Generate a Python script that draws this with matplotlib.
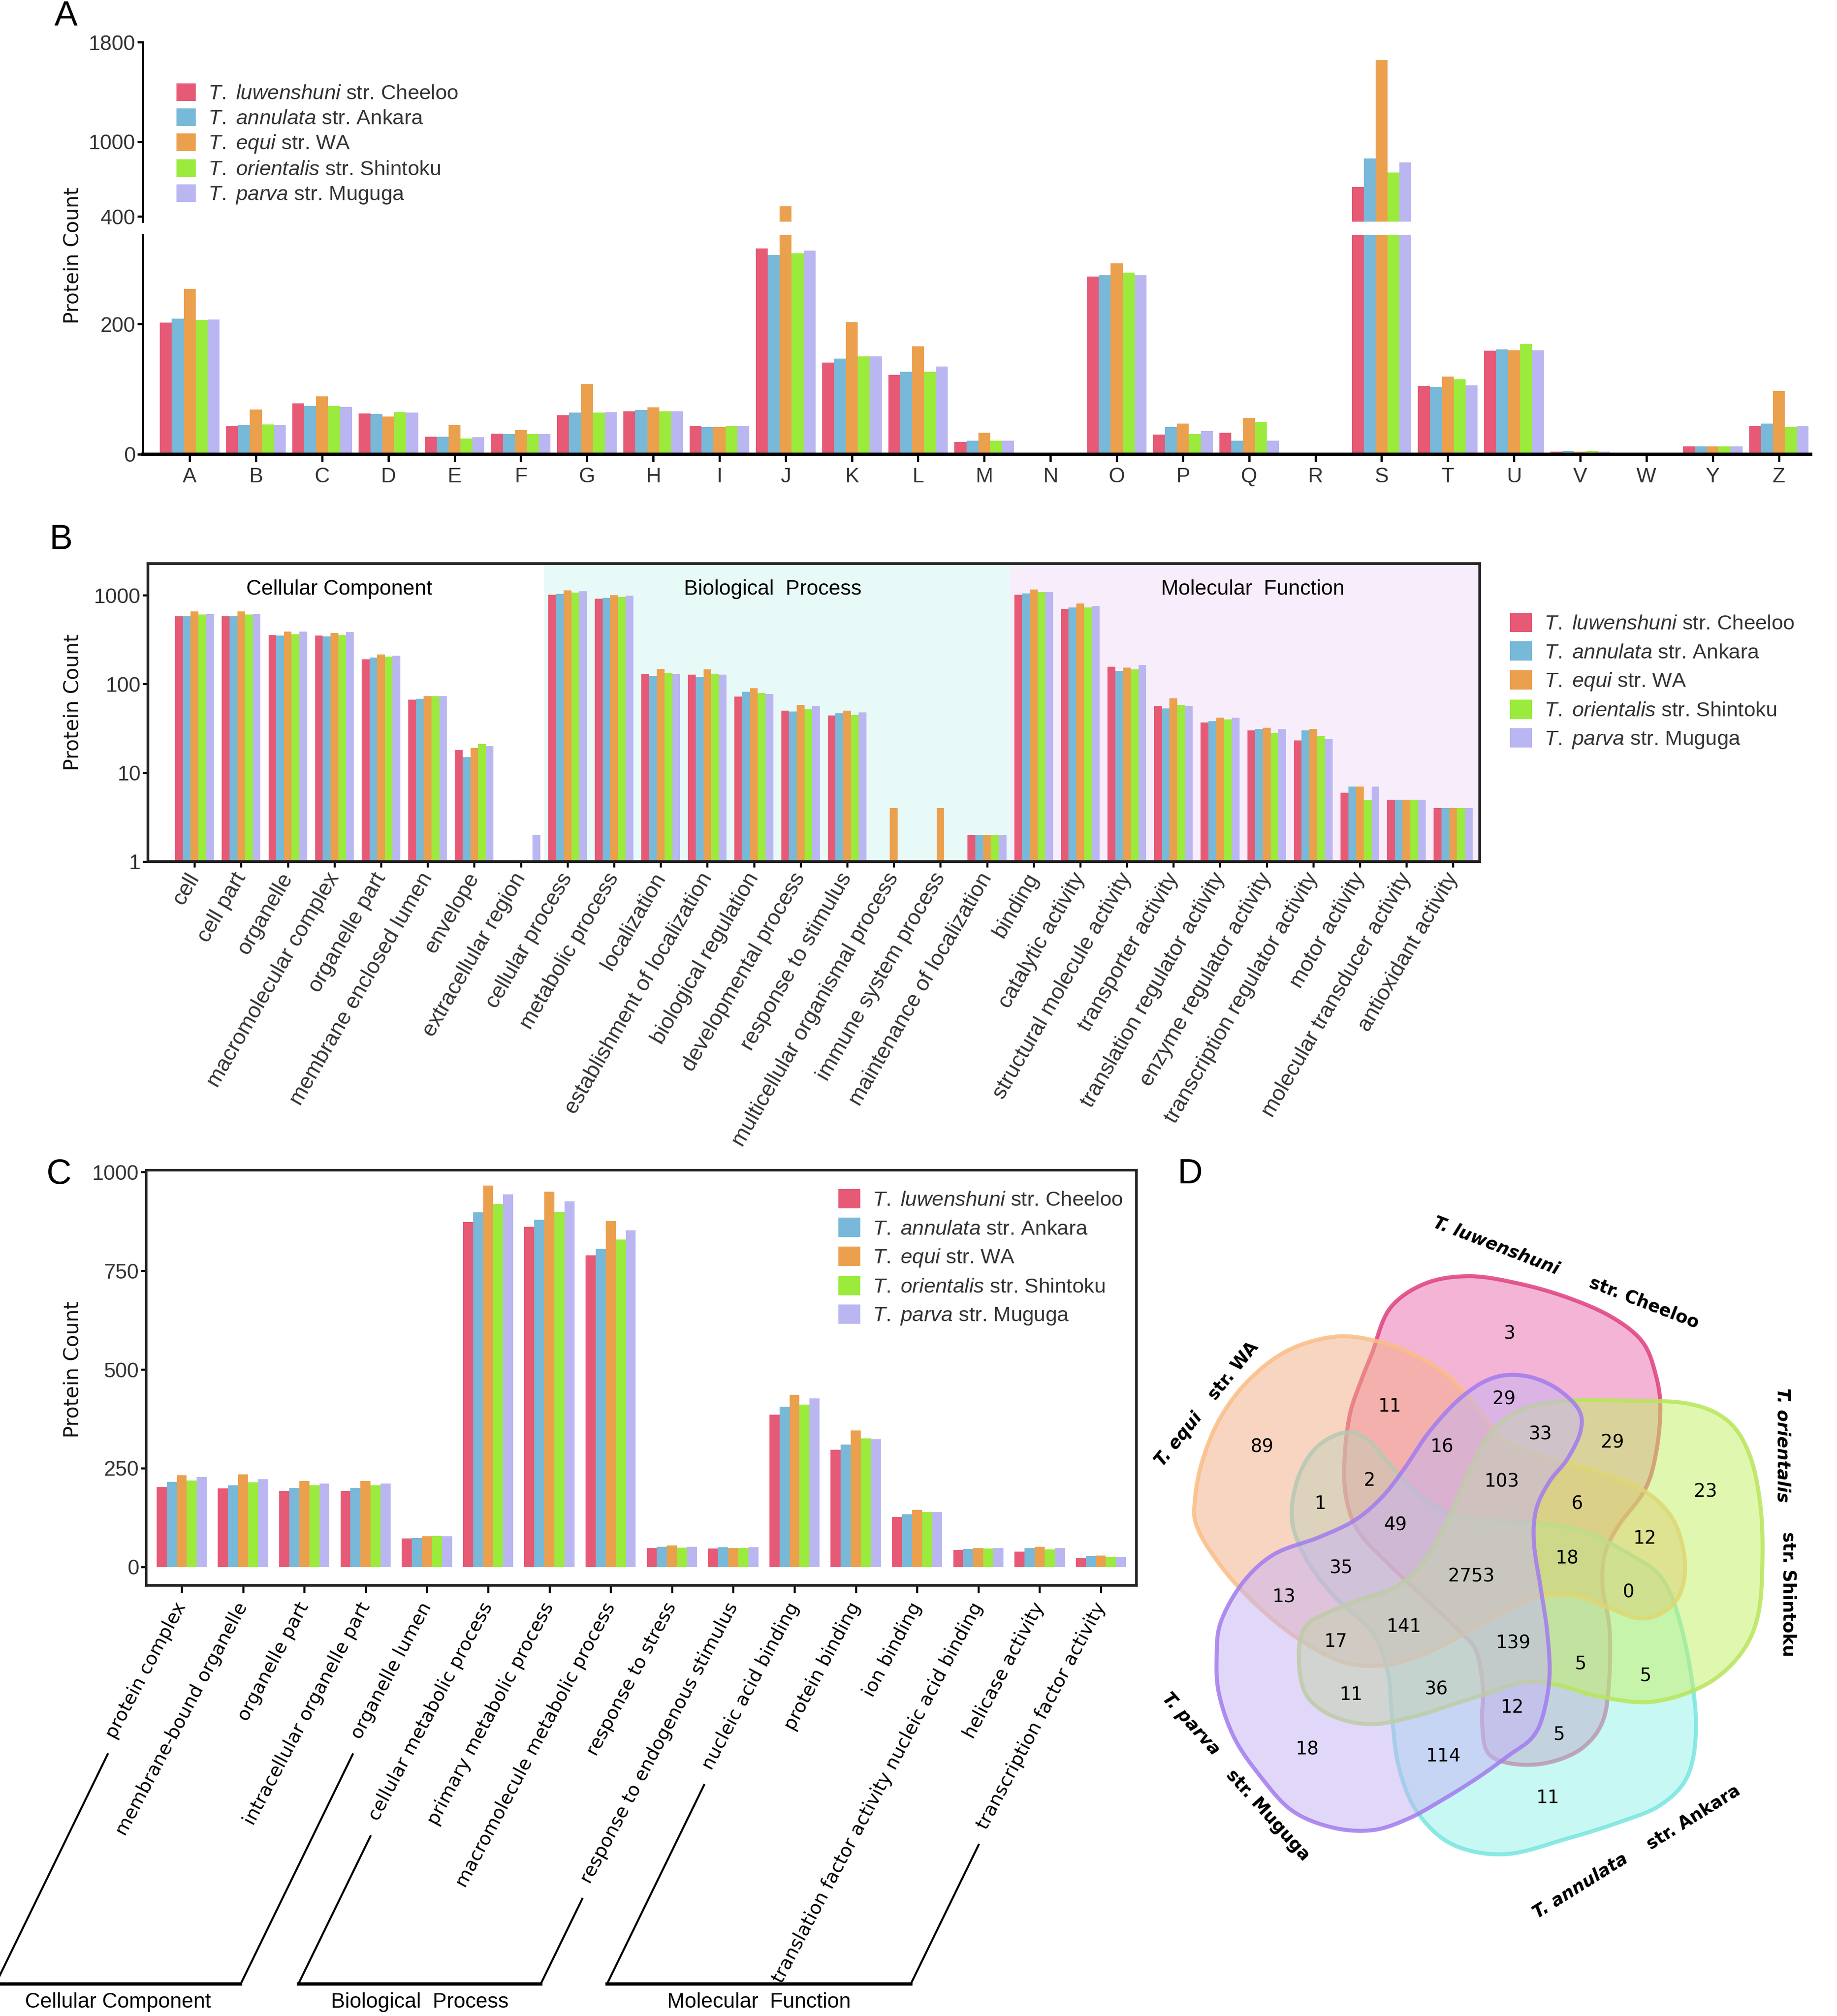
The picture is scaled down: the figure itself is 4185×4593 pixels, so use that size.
import numpy as np
import matplotlib.pyplot as plt
from matplotlib.patches import Patch, Polygon
from matplotlib.lines import Line2D

plt.rcParams['font.family'] = ['Liberation Sans', 'DejaVu Sans']
plt.rcParams['mathtext.fontset'] = 'custom'
plt.rcParams['mathtext.rm'] = 'Liberation Sans'
plt.rcParams['mathtext.it'] = 'Liberation Sans:italic'

# ---- data ----
species = ['T. luwenshuni', 'T. annulata', 'T. equi', 'T. orientalis', 'T. parva']
strains = ['str. Cheeloo', 'str. Ankara', 'str. WA', 'str. Shintoku', 'str. Muguga']
colors = ['#E65A76', '#78B8D8', '#EBA04E', '#9AEB3C', '#BAB6F1']

# A: COG functional categories
cog_cats = ['A', 'B', 'C', 'D', 'E', 'F', 'G', 'H', 'I', 'J', 'K', 'L', 'M',
            'N', 'O', 'P', 'Q', 'R', 'S', 'T', 'U', 'V', 'W', 'Y', 'Z']
cog_luw = [202, 44, 78, 63, 27, 32, 60, 66, 43, 316, 141, 122, 19, 0, 273, 30, 33, 0, 637, 105, 159, 4, 2, 12, 43]
cog_ann = [208, 45, 74, 62, 27, 31, 64, 68, 42, 306, 147, 127, 21, 0, 275, 42, 21, 0, 867, 103, 161, 5, 2, 12, 47]
cog_equ = [254, 69, 89, 58, 45, 37, 108, 72, 42, 481, 203, 166, 33, 0, 293, 47, 56, 0, 1654, 119, 160, 4, 2, 12, 97]
cog_ori = [206, 46, 74, 65, 24, 31, 64, 66, 43, 309, 150, 127, 21, 0, 279, 31, 49, 0, 753, 115, 169, 5, 2, 12, 42]
cog_par = [207, 45, 73, 64, 26, 31, 65, 66, 44, 313, 150, 135, 21, 0, 275, 36, 21, 0, 835, 106, 160, 4, 2, 12, 44]

# B: GO level-2 terms
go_groups = ['Cellular Component', 'Biological  Process', 'Molecular  Function']
go_terms = ['cell', 'cell part', 'organelle', 'macromolecular complex', 'organelle part',
            'membrane enclosed lumen', 'envelope', 'extracellular region',
            'cellular process', 'metabolic process', 'localization',
            'establishment of localization', 'biological regulation', 'developmental process',
            'response to stimulus', 'multicellular organismal process', 'immune system process',
            'maintenance of localization',
            'binding', 'catalytic activity', 'structural molecule activity', 'transporter activity',
            'translation regulator activity', 'enzyme regulator activity',
            'transcription regulator activity', 'motor activity', 'molecular transducer activity',
            'antioxidant activity']
go_sizes = [8, 10, 10]
go_luw = [579, 579, 356, 352, 189, 67, 18, 0, 1012, 918, 129, 128, 72, 50, 44, 0, 0, 2,
          1012, 704, 157, 57, 37, 30, 23, 6, 5, 4]
go_ann = [579, 582, 350, 344, 199, 68, 15, 0, 1037, 935, 123, 121, 82, 49, 47, 0, 0, 2,
          1050, 731, 139, 53, 38, 31, 30, 7, 5, 4]
go_equ = [659, 659, 391, 374, 215, 73, 19, 0, 1131, 1006, 148, 146, 90, 58, 50, 4, 4, 2,
          1166, 807, 153, 69, 42, 32, 31, 7, 5, 4]
go_ori = [608, 608, 363, 356, 203, 73, 21, 0, 1077, 958, 133, 130, 79, 52, 45, 0, 0, 2,
          1089, 731, 146, 58, 40, 28, 26, 5, 5, 4]
go_par = [615, 615, 391, 384, 208, 73, 20, 2, 1104, 993, 129, 127, 77, 56, 48, 0, 0, 2,
          1083, 749, 163, 57, 42, 31, 24, 7, 5, 4]

# C: GO level-3 terms
c_terms = ['protein complex', 'membrane-bound organelle', 'organelle part',
           'intracellular organelle part', 'organelle lumen', 'cellular metabolic process',
           'primary metabolic process', 'macromolecule metabolic process', 'response to stress',
           'response to endogenous stimulus', 'nucleic acid binding', 'protein binding',
           'ion binding', 'translation factor activity nucleic acid binding',
           'helicase activity', 'transcription factor activity']
c_groups = [(0, 4), (5, 9), (10, 15)]
c_luw = [202, 199, 192, 192, 72, 874, 862, 789, 47, 46, 386, 297, 127, 43, 39, 23]
c_ann = [216, 206, 200, 200, 73, 898, 879, 806, 51, 50, 406, 310, 133, 45, 47, 28]
c_equ = [232, 234, 218, 218, 78, 966, 951, 876, 54, 48, 436, 345, 144, 47, 51, 29]
c_ori = [219, 214, 206, 206, 79, 919, 899, 829, 49, 48, 411, 326, 139, 46, 44, 25]
c_par = [228, 222, 211, 211, 78, 944, 926, 853, 51, 50, 427, 323, 139, 47, 47, 25]

# D: shared orthologous clusters (Venn region counts)
venn_counts = [3, 11, 29, 89, 16, 33, 29, 103, 2, 1, 6, 23, 12, 49, 18, 35, 2753,
               0, 13, 141, 17, 139, 5, 5, 11, 36, 12, 5, 18, 114, 11]

# ---- layout helpers (figure pixels, origin top-left) ----
W, H, DPI = 4185, 4593, 300
fig = plt.figure(figsize=(W / DPI, H / DPI), dpi=DPI)
dark = '#333333'


def box(x0, y0, x1, y1):
    return [x0 / W, 1 - y1 / H, (x1 - x0) / W, (y1 - y0) / H]


def legend_labels():
    return [r'$\it{' + sp.replace(' ', r'\ ') + '}$ ' + st for sp, st in zip(species, strains)]


def add_legend(ax, x0, y0, size_px, step_px):
    fs = 11.4
    fs_px = fs / 72 * DPI
    hpt = size_px / DPI * 72
    handles = [Patch(facecolor=c, edgecolor='none') for c in colors]
    leg = ax.legend(handles, legend_labels(), loc='upper left',
                    bbox_to_anchor=(x0 / W, 1 - y0 / H), bbox_transform=fig.transFigure,
                    frameon=False, fontsize=fs, handlelength=hpt / fs, handleheight=hpt / fs,
                    handletextpad=0.6, borderpad=0, borderaxespad=0,
                    labelspacing=(step_px - 47) / fs_px)
    for t in leg.get_texts():
        t.set_color(dark)
    return leg


def panel_label(s, x, y):
    fig.text(x / W, 1 - y / H, s, fontsize=19, ha='center', va='center')


def ylabel(y):
    fig.text(166 / W, 1 - y / H, 'Protein Count', rotation=90, family='DejaVu Sans',
             fontsize=11, ha='center', va='center', color='#111111')


# ---- A: broken-axis bar chart ----
axA_lo = fig.add_axes(box(325, 535, 4125, 1035))
axA_hi = fig.add_axes(box(325, 96, 4125, 505))
xa = np.arange(len(cog_cats))
bw = 0.18
for ax in (axA_lo, axA_hi):
    for i, (vals, c) in enumerate(zip([cog_luw, cog_ann, cog_equ, cog_ori, cog_par], colors)):
        ax.bar(xa + (i - 2) * bw, vals, bw, color=c, linewidth=0)
    ax.set_xlim(-0.71, 24.48)
    for s in ('top', 'right'):
        ax.spines[s].set_visible(False)
    ax.spines['left'].set_linewidth(1.2)
    ax.tick_params(axis='y', labelsize=11.5, labelcolor=dark, length=3, width=1.2, pad=1)
axA_lo.set_ylim(0, 337)
axA_lo.set_yticks([0, 200])
axA_lo.spines['bottom'].set_linewidth(1.8)
axA_lo.set_xticks(xa)
axA_lo.set_xticklabels(cog_cats)
axA_lo.tick_params(axis='x', labelsize=11.5, labelcolor=dark, length=4, width=1.2, pad=3)
axA_hi.set_ylim(358, 1800)
axA_hi.set_yticks([400, 1000, 1800])
axA_hi.spines['bottom'].set_visible(False)
axA_hi.set_xticks([])
add_legend(axA_hi, 402, 190, 44, 57.5)
panel_label('A', 150, 38)
ylabel(582)

# ---- B: GO level-2, log scale ----
axB = fig.add_axes(box(337, 1284, 3371, 1963))
xb = np.arange(len(go_terms))
bw = 0.166
for i, (vals, c) in enumerate(zip([go_luw, go_ann, go_equ, go_ori, go_par], colors)):
    v = np.array(vals, float)
    axB.bar(xb + (i - 2) * bw, np.where(v > 0, v - 1, 0), bw, bottom=1, color=c, linewidth=0)
axB.set_yscale('log')
axB.set_ylim(1, 2270)
axB.set_xlim(-1, 27.57)
edges = np.cumsum(go_sizes) - 0.5
axB.axvspan(edges[0], edges[1], color='#E8FAF8', zorder=0, lw=0)
axB.axvspan(edges[1], 27.57, color='#F8EDFB', zorder=0, lw=0)
for g, xc in zip(go_groups, [3.1, 12.4, 22.7]):
    axB.text(xc, 1173, g, ha='center', va='center', fontsize=11.5)
axB.set_yticks([1, 10, 100, 1000])
axB.set_yticklabels(['1', '10', '100', '1000'])
axB.minorticks_off()
axB.set_xticks(xb)
axB.set_xticklabels(go_terms, rotation=60, ha='right', va='center', rotation_mode='anchor')
axB.tick_params(axis='x', labelsize=12, labelcolor=dark, length=3, width=1.1, pad=4)
axB.tick_params(axis='y', labelsize=11.5, labelcolor=dark, length=3, width=1.1, pad=1)
for s in axB.spines.values():
    s.set_linewidth(1.5)
    s.set_color('#222222')
add_legend(axB, 3440, 1396, 50, 64)
panel_label('B', 139, 1231)
ylabel(1600)

# ---- C: GO level-3 ----
axC = fig.add_axes(box(333, 2666, 2589, 3612))
xc_ = np.arange(len(c_terms))
bw = 0.164
for i, (vals, c) in enumerate(zip([c_luw, c_ann, c_equ, c_ori, c_par], colors)):
    axC.bar(xc_ + (i - 2) * bw, vals, bw, color=c, linewidth=0)
axC.set_ylim(-47, 1005)
axC.set_xlim(-0.58, 15.58)
axC.set_yticks([0, 250, 500, 750, 1000])
axC.set_xticks(xc_)
axC.set_xticklabels(c_terms, rotation=62, ha='right', va='center', rotation_mode='anchor',
                    family='DejaVu Sans')
axC.tick_params(axis='x', labelsize=10.2, length=4, width=1.1, pad=6)
axC.tick_params(axis='y', labelsize=11.5, labelcolor=dark, length=3, width=1.1, pad=1)
for s in axC.spines.values():
    s.set_linewidth(1.4)
    s.set_color('#222222')
add_legend(axC, 1910, 2709, 50, 64)
panel_label('C', 135, 2676)
ylabel(3120)

# group brackets under the C tick labels
fig.canvas.draw()
rend = fig.canvas.get_renderer()
labs = axC.get_xticklabels()
y_bot = 73
slope = np.tan(np.radians(64))
for (i0, i1), name in zip(c_groups, go_groups):
    xs = []
    for i in (i0, i1):
        bb = labs[i].get_window_extent(rend)
        xt, yt = bb.x0 + 12, bb.y0 - 28
        xb_ = xt - (yt - y_bot) / slope
        fig.add_artist(Line2D([xt / W, xb_ / W], [yt / H, y_bot / H], color='black', lw=1.1))
        xs.append(xb_)
    fig.add_artist(Line2D([xs[0] / W, xs[1] / W], [y_bot / H, y_bot / H], color='black', lw=1.8))
    fig.text((xs[0] + xs[1]) / 2 / W, 32 / H, name, ha='center', va='center', fontsize=11.5)

# ---- D: five-set Venn ----
axD = fig.add_axes(box(2600, 2600, 4185, 4593))
axD.set_xlim(0, 1568)
axD.set_ylim(1568, 0)
axD.axis('off')


def smooth_closed(pts, n=16):
    p = np.asarray(pts, float)
    k = len(p)
    t = np.linspace(0, 1, n, endpoint=False)[:, None]
    out = []
    for i in range(k):
        p0, p1, p2, p3 = p[i - 1], p[i], p[(i + 1) % k], p[(i + 2) % k]
        out.append(0.5 * (2 * p1 + (-p0 + p2) * t + (2 * p0 - 5 * p1 + 4 * p2 - p3) * t ** 2
                          + (-p0 + 3 * p1 - 3 * p2 + p3) * t ** 3))
    return np.vstack(out)


shape_luw = [(520, 380), (560, 300), (640, 255), (740, 242), (850, 255), (960, 280), (1060, 315),
             (1130, 360), (1160, 420), (1170, 480), (1160, 560), (1135, 625), (1075, 690),
             (1045, 740), (1040, 800), (1055, 870), (1055, 960), (1040, 1040), (990, 1090),
             (910, 1115), (830, 1115), (780, 1095), (768, 1040), (770, 980), (755, 915),
             (720, 880), (640, 820), (560, 760), (490, 700), (462, 640), (458, 570), (470, 490),
             (495, 430)]
shape_ann = [(340, 650), (360, 590), (400, 545), (460, 522), (510, 535), (560, 580), (620, 630),
             (700, 670), (800, 680), (900, 685), (1000, 700), (1100, 740), (1170, 780),
             (1210, 850), (1240, 960), (1250, 1060), (1230, 1140), (1170, 1190), (1080, 1220),
             (960, 1250), (820, 1278), (700, 1260), (620, 1200), (580, 1120), (565, 1030),
             (555, 950), (520, 880), (440, 820), (380, 760), (345, 700)]
shape_equ = [(120, 650), (135, 580), (175, 500), (240, 430), (330, 375), (440, 350), (540, 360),
             (620, 385), (690, 420), (750, 470), (800, 520), (840, 545), (930, 570), (1040, 595),
             (1140, 630), (1200, 680), (1225, 750), (1215, 810), (1175, 845), (1120, 855),
             (1050, 835), (980, 815), (910, 815), (850, 830), (780, 860), (700, 895), (620, 925),
             (540, 940), (460, 935), (380, 905), (300, 860), (220, 800), (160, 740), (125, 690)]
shape_ori = [(355, 920), (370, 870), (420, 845), (500, 820), (570, 800), (630, 760), (690, 680),
             (740, 590), (790, 520), (860, 480), (960, 465), (1080, 465), (1230, 470),
             (1320, 500), (1370, 560), (1395, 650), (1400, 750), (1390, 850), (1350, 920),
             (1270, 975), (1150, 1005), (1030, 995), (940, 975), (860, 970), (780, 990),
             (700, 1010), (620, 1030), (520, 1045), (430, 1030), (370, 990)]
shape_par = [(170, 920), (180, 860), (230, 790), (300, 740), (400, 710), (480, 680), (540, 640),
             (590, 590), (650, 520), (720, 460), (790, 425), (860, 420), (930, 440), (985, 480),
             (990, 520), (960, 570), (920, 610), (890, 660), (885, 720), (900, 800), (915, 880),
             (920, 960), (905, 1030), (880, 1070), (830, 1100), (760, 1140), (680, 1180),
             (600, 1215), (520, 1235), (430, 1230), (340, 1200), (270, 1140), (210, 1070),
             (175, 990)]
venn_fill = ['#E96AAD', '#93F3E9', '#F3AD85', '#C3F163', '#C5B3F5']
venn_edge = ['#E0407E', '#78E6E0', '#FBBE85', '#B8E65A', '#A27CEE']
for pts, fc, ec in zip([shape_luw, shape_ann, shape_equ, shape_ori, shape_par], venn_fill, venn_edge):
    xy = smooth_closed(pts)
    axD.add_patch(Polygon(xy, closed=True, facecolor=fc, alpha=0.5, edgecolor='none'))
    axD.add_patch(Polygon(xy, closed=True, facecolor='none', edgecolor=ec, alpha=0.85, lw=2.2))

venn_xy = [(830, 345), (560, 475), (818, 462), (272, 548), (678, 548), (900, 525), (1062, 540),
           (812, 610), (515, 608), (403, 650), (982, 650), (1272, 628), (1135, 712), (573, 688),
           (960, 748), (450, 765), (744, 780), (1098, 808), (322, 817), (592, 870), (438, 897),
           (838, 900), (990, 937), (1137, 958), (473, 992), (665, 982), (836, 1015), (942, 1063),
           (374, 1090), (681, 1102), (916, 1177)]
for n, (x, y) in zip(venn_counts, venn_xy):
    axD.text(x, y, str(n), ha='center', va='center', fontsize=10, family='DejaVu Sans')

# set names: (species position, strain position, rotation) in Venn coordinates
set_label_pos = [((800, 188), (1133, 290), -21),
                 ((990, 1335), (1245, 1212), 32),
                 ((85, 535), (207, 412), 51),
                 ((1445, 545), (1458, 812), -90),
                 ((112, 1045), (285, 1208), -48)]
for sp, st, (p_sp, p_st, rot) in zip(species, strains, set_label_pos):
    axD.text(*p_sp, sp, rotation=rot, ha='center', va='center', fontsize=9.5,
             family='DejaVu Sans', weight='bold', style='italic', rotation_mode='anchor')
    axD.text(*p_st, st, rotation=rot, ha='center', va='center', fontsize=9.5,
             family='DejaVu Sans', weight='bold', rotation_mode='anchor')
panel_label('D', 2711, 2676)

fig.savefig('out.png', dpi=DPI)
